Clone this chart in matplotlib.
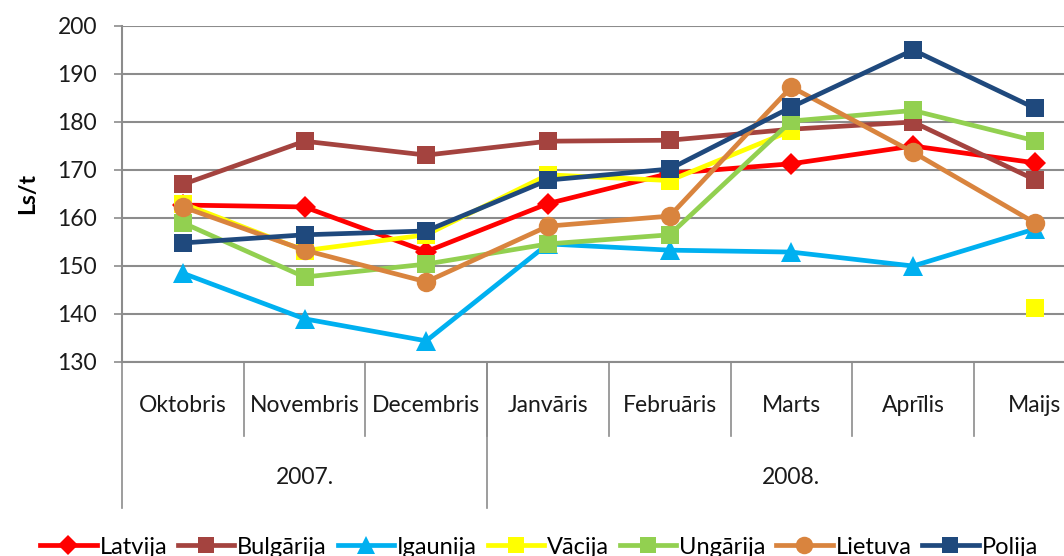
import numpy as np
import matplotlib
matplotlib.use("Agg")
import matplotlib.pyplot as plt
import matplotlib.transforms as mtransforms

plt.rcParams['font.family'] = ['Lato', 'DejaVu Sans']

months = ["Oktobris", "Novembris", "Decembris", "Janvāris", "Februāris",
          "Marts", "Aprīlis", "Maijs"]
years = ["2007.", "2008."]
year_spans = [(0, 2), (3, 7)]

latvija = [162.7, 162.3, 153.0, 163.0, 169.3, 171.3, 175.0, 171.5]
bulgarija = [167.0, 176.0, 173.1, 176.0, 176.2, 178.5, 180.0, 168.0]
igaunija = [148.5, 139.0, 134.4, 154.6, 153.3, 152.9, 150.0, 157.7]
vacija = [163.0, 153.2, 156.5, 169.0, 167.8, 178.2, np.nan, 141.2]
ungarija = [159.0, 147.7, 150.4, 154.6, 156.5, 180.2, 182.4, 176.1]
lietuva = [162.3, 153.3, 146.7, 158.3, 160.4, 187.3, 173.7, 159.0]
polija = [154.8, 156.5, 157.3, 167.9, 170.2, 183.1, 195.0, 182.9]

series = [
    ("Latvija", latvija, "#FF0000", "D", 11),
    ("Bulgārija", bulgarija, "#A4433F", "s", 13),
    ("Igaunija", igaunija, "#00B0F0", "^", 15),
    ("Vācija", vacija, "#FFFF00", "s", 13),
    ("Ungārija", ungarija, "#92D050", "s", 13),
    ("Lietuva", lietuva, "#D9843E", "o", 14),
    ("Polija", polija, "#1F497D", "s", 13),
]

fig = plt.figure(figsize=(10.64, 5.56), dpi=100)
# plot area runs past the right edge, like the cropped original
ax = fig.add_axes([122 / 1064, 194 / 556, 973.6 / 1064, 336 / 556])

x = np.arange(len(months))
for name, vals, col, mk, ms in series:
    ax.plot(x, vals, color=col, lw=3.4, marker=mk, markersize=ms,
            markeredgewidth=0, label=name, clip_on=False)

grid_c = "#8C8C8C"
ax.set_xlim(-0.5, len(months) - 0.5)
ax.set_ylim(130, 200)
ax.set_yticks(np.arange(130, 201, 10))
ax.yaxis.grid(True, color=grid_c, lw=1.5)
ax.set_axisbelow(True)
ax.tick_params(axis='y', length=6, width=1.2, color=grid_c, labelsize=16.5,
               pad=12, labelcolor="#1a1a1a")
ax.set_xticks([])
for s in ["top", "right"]:
    ax.spines[s].set_visible(False)
ax.spines["left"].set_color(grid_c)
ax.spines["bottom"].set_color(grid_c)
ax.spines["left"].set_linewidth(1.5)
ax.spines["bottom"].set_linewidth(1.5)
ax.set_ylabel("Ls/t", fontsize=16.5, fontweight="bold", labelpad=14)

# two level category axis
trans = mtransforms.blended_transform_factory(ax.transData, ax.transAxes)
for i, m in enumerate(months):
    ax.text(i, -0.128, m, transform=trans, ha="center", va="center",
            fontsize=16.5, color="#1a1a1a")
for i in range(1, len(months)):
    ax.plot([i - 0.5, i - 0.5], [0, -0.22], transform=trans, color=grid_c,
            lw=1.2, clip_on=False)
for (a, b), yr in zip(year_spans, years):
    ax.text((a + b) / 2, -0.345, yr, transform=trans, ha="center",
            va="center", fontsize=16.5, color="#1a1a1a")
    ax.plot([a - 0.5, a - 0.5], [0, -0.435], transform=trans, color=grid_c,
            lw=1.2, clip_on=False)

fig.legend(loc="center left", bbox_to_anchor=(40 / 1064, 9 / 556), ncol=7,
           frameon=False, fontsize=17, handlelength=2.4, handletextpad=0.12,
           columnspacing=0.45, borderpad=0, borderaxespad=0,
           markerscale=0.9)

fig.savefig("out.png", dpi=100)
